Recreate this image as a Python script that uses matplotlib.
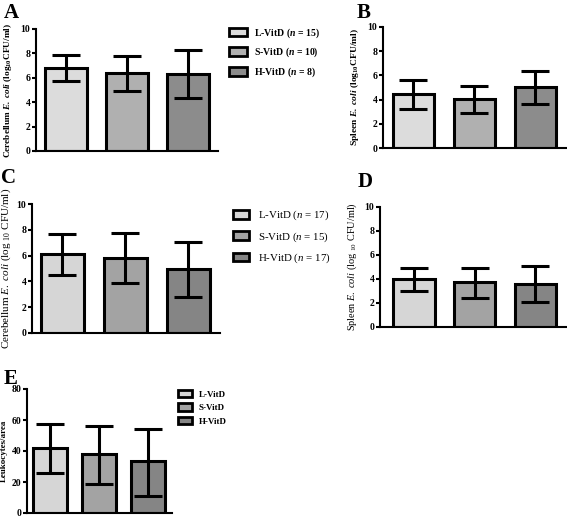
import matplotlib
matplotlib.use("Agg")
import matplotlib.pyplot as plt
from matplotlib.patches import Patch

plt.rcParams['font.family'] = ['Liberation Serif', 'DejaVu Serif']
plt.rcParams['mathtext.fontset'] = 'custom'
plt.rcParams['mathtext.rm'] = 'Liberation Serif'
plt.rcParams['mathtext.it'] = 'Liberation Serif:italic'
plt.rcParams['mathtext.bf'] = 'Liberation Serif:bold'
try:
    plt.rcParams['mathtext.bfit'] = 'Liberation Serif:bold:italic'
    BFIT = True
except Exception:
    BFIT = False

groups = ["L-VitD", "S-VitD", "H-VitD"]

a_mean = [6.8, 6.4, 6.35]
a_err_hi = [7.85, 7.75, 8.3]
a_err_lo = [5.7, 4.9, 4.35]
a_n = [15, 10, 8]

b_mean = [4.45, 4.05, 5.0]
b_err_hi = [5.65, 5.15, 6.35]
b_err_lo = [3.2, 2.9, 3.65]

c_mean = [6.1, 5.85, 4.95]
c_err_hi = [7.65, 7.75, 7.05]
c_err_lo = [4.5, 3.85, 2.8]
c_n = [17, 15, 17]

d_mean = [4.0, 3.75, 3.6]
d_err_hi = [4.9, 4.9, 5.05]
d_err_lo = [3.0, 2.4, 2.05]

e_mean = [42, 38, 33.5]
e_err_hi = [57.5, 56, 54.5]
e_err_lo = [25.5, 19, 11]

colors_ab = ["#dcdcdc", "#b0b0b0", "#8c8c8c"]
colors_cd = ["#d6d6d6", "#a3a3a3", "#858585"]

W, H = 567, 517
fig = plt.figure(figsize=(W/100, H/100), dpi=100)

def add_ax(left, right, top, bottom):
    return fig.add_axes([left/W, (H-bottom)/H, (right-left)/W, (bottom-top)/H])

def draw(ax, mean, hi, lo, colors, ymax, step, xlim, width=0.68):
    x = list(range(len(mean)))
    yerr = [[m - l for m, l in zip(mean, lo)], [h - m for m, h in zip(mean, hi)]]
    ax.bar(x, mean, width=width, color=colors, edgecolor='black', linewidth=2.2, zorder=2)
    ax.errorbar(x, mean, yerr=yerr, fmt='none', ecolor='black', elinewidth=2.2,
                capsize=10, capthick=2.2, zorder=3)
    ax.set_xlim(*xlim)
    ax.set_ylim(0, ymax)
    ax.set_yticks(list(range(0, ymax + 1, step)))
    ax.set_xticks([])
    for s in ['top', 'right']:
        ax.spines[s].set_visible(False)
    for s in ['left', 'bottom']:
        ax.spines[s].set_linewidth(1.5)
    ax.tick_params(axis='y', length=3, width=1.5, labelsize=7, pad=1)
    for t in ax.get_yticklabels():
        t.set_fontweight('bold')
    ax.patch.set_alpha(0)

ecoli_b = r'$\mathbfit{E.\ coli}$' if BFIT else r'$\it{E.\ coli}$'

# Panel A
axA = add_ax(36, 218, 29, 151)
draw(axA, a_mean, a_err_hi, a_err_lo, colors_ab, 10, 2, (-0.49, 2.49))
axA.set_ylabel('Cerebellum ' + ecoli_b + r' (log$_{\mathbf{10}}$CFU/ml)',
               fontsize=6.7, fontweight='bold', labelpad=5)

# Panel B
axB = add_ax(383, 567, 27, 148)
draw(axB, b_mean, b_err_hi, b_err_lo, colors_ab, 10, 2, (-0.5, 2.52))
axB.set_ylabel('Spleen ' + ecoli_b + r' (log$_{\mathbf{10}}$CFU/ml)',
               fontsize=6.8, fontweight='bold', labelpad=5)

# Panel C
axC = add_ax(32, 220, 204, 333)
draw(axC, c_mean, c_err_hi, c_err_lo, colors_cd, 10, 2, (-0.48, 2.5))
axC.set_ylabel(r'Cerebellum $\it{E.\ coli}$ (log $_{10}$ CFU/ml)', fontsize=8.0, labelpad=3)

# Panel D
axD = add_ax(380, 567, 207, 327)
draw(axD, d_mean, d_err_hi, d_err_lo, colors_cd, 10, 2, (-0.56, 2.52))
axD.set_ylabel(r'Spleen $\it{E.\ coli}$ (log $_{10}$ CFU/ml)', fontsize=7.4, labelpad=4)

# Panel E
axE = add_ax(27, 172, 389, 513)
draw(axE, e_mean, e_err_hi, e_err_lo, colors_cd, 80, 20, (-0.48, 2.5), width=0.7)
axE.set_ylabel('Leukocytes/area', fontsize=6.5, fontweight='bold', labelpad=3)

# Legends
def legend(labels, colors, x, y, fontsize, weight, spacing, hl=1.5, hh=0.9):
    handles = [Patch(facecolor=c, edgecolor='black', linewidth=2) for c in colors]
    leg = fig.legend(handles, labels, loc='upper left', bbox_to_anchor=(x/W, 1 - y/H),
                     frameon=False, handlelength=hl, handleheight=hh,
                     labelspacing=spacing, handletextpad=0.8, borderaxespad=0, borderpad=0,
                     prop={'size': fontsize, 'weight': weight})
    return leg

legend([f'{g} ($\\mathbfit{{n}}$ = {n})' if BFIT else f'{g} ($\\it{{n}}$ = {n})'
        for g, n in zip(groups, a_n)], colors_ab, 229, 26, 7.0, 'bold', 0.65, hl=1.8, hh=1.0)
legend([f'{g} ($\\it{{n}}$ = {n})' for g, n in zip(groups, c_n)], colors_cd, 233, 209, 7.8, 'normal', 0.7, hl=1.5, hh=0.8)
legend(groups, colors_cd, 178, 390, 6.5, 'bold', 0.5)

# Panel letters
for lab, x, y in [('A', 4, 3), ('B', 357, 3), ('C', 1, 168), ('D', 358, 172), ('E', 4, 369)]:
    fig.text(x/W, 1 - y/H, lab, fontsize=15, fontweight='bold', va='top', ha='left')

fig.savefig('out.png', dpi=100)
